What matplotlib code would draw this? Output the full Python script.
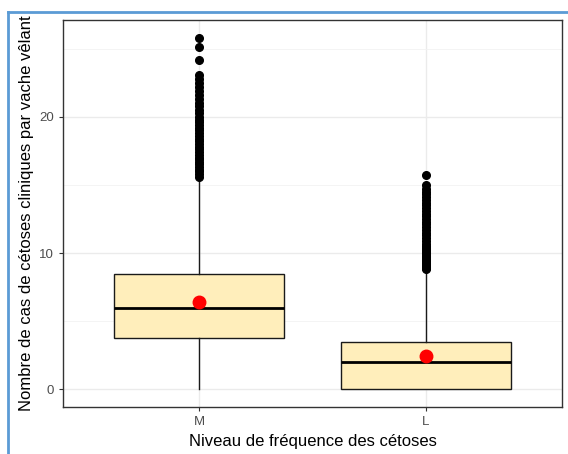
import numpy as np
import matplotlib.pyplot as plt
from matplotlib.lines import Line2D

plt.rcParams['font.family'] = ['Liberation Sans', 'DejaVu Sans']

# data
categories = ['M', 'L']
q1 = [3.8, 0.0]
medians = [6.0, 2.0]
q3 = [8.5, 3.5]
whis_low = [0.0, 0.0]
whis_high = [15.5, 8.7]
means = [6.4, 2.45]
outliers_m = [15.6, 15.8, 16.0, 16.1, 16.3, 16.5, 16.7, 16.9, 17.0, 17.2,
              17.4, 17.6, 17.8, 18.0, 18.2, 18.4, 18.6, 18.8, 19.0, 19.2,
              19.4, 19.6, 19.8, 20.0, 20.3, 20.5, 20.8, 21.0, 21.3, 21.6,
              21.9, 22.2, 22.5, 22.8, 23.1, 24.2, 25.1, 25.8]
outliers_l = [8.8, 8.9, 9.0, 9.1, 9.2, 9.3, 9.4, 9.5, 9.6, 9.7, 9.8, 9.9,
              10.0, 10.1, 10.2, 10.3, 10.4, 10.5, 10.7, 10.9, 11.1, 11.3,
              11.5, 11.7, 11.9, 12.1, 12.3, 12.5, 12.7, 12.9, 13.1, 13.3,
              13.5, 13.7, 13.9, 14.1, 14.3, 14.5, 14.7, 15.0, 15.7]
y_ticks = [0, 10, 20]
y_minor = [5, 15, 25]

fig = plt.figure(figsize=(5.68, 4.54), dpi=100)
ax = fig.add_axes([63 / 568, 1 - 407 / 454, (562 - 63) / 568, (407 - 20) / 454])

stats = []
for i, name in enumerate(categories):
    stats.append({'label': name, 'q1': q1[i], 'med': medians[i], 'q3': q3[i],
                  'whislo': whis_low[i], 'whishi': whis_high[i],
                  'fliers': [outliers_m, outliers_l][i]})

pos = np.arange(1, len(categories) + 1)
ax.bxp(stats, positions=pos, widths=0.75, patch_artist=True, showcaps=False,
       boxprops=dict(facecolor='#FFEEBB', edgecolor='#1a1a1a', linewidth=1.0),
       medianprops=dict(color='black', linewidth=2.0),
       whiskerprops=dict(color='#1a1a1a', linewidth=1.0),
       flierprops=dict(marker='o', markerfacecolor='black', markeredgecolor='black',
                       markersize=5.5, linestyle='none'),
       zorder=3)
ax.plot(pos, means, 'o', color='red', markersize=9, zorder=4)

ax.set_xlim(0.4, 2.6)
ax.set_ylim(-1.29, 27.1)
ax.set_xticks(pos)
ax.set_xticklabels(categories)
ax.set_yticks(y_ticks)
ax.set_yticks(y_minor, minor=True)
ax.grid(True, which='major', color='#EBEBEB', linewidth=1.0, zorder=0)
ax.grid(True, which='minor', axis='y', color='#F2F2F2', linewidth=0.6, zorder=0)
ax.set_axisbelow(True)
ax.tick_params(axis='both', which='major', colors='#333333', labelcolor='#4D4D4D',
               labelsize=9.5, length=3, width=0.8)
ax.tick_params(axis='y', which='minor', length=0)
for s in ax.spines.values():
    s.set_color('#333333')
    s.set_linewidth(1.0)

ax.set_xlabel('Niveau de fréquence des cétoses', fontsize=12, labelpad=4)
ax.set_ylabel('Nombre de cas de cétoses cliniques par vache vêlant', fontsize=12, labelpad=4)

# blue screenshot frame
fig.add_artist(Line2D([8 / 568, 8 / 568], [0, 1 - 12 / 454], color='#5B9BD5', linewidth=2))
fig.add_artist(Line2D([8 / 568, 1], [1 - 12 / 454, 1 - 12 / 454], color='#5B9BD5', linewidth=2))

fig.savefig('out.png', dpi=100)
